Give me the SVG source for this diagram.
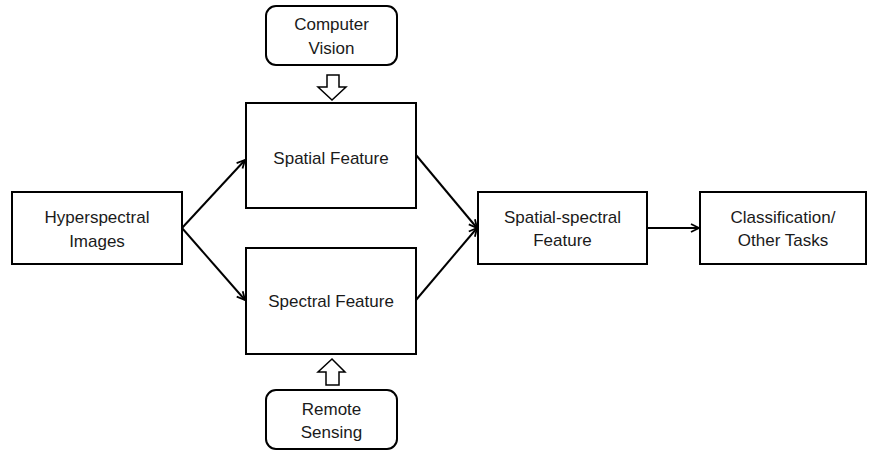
<svg xmlns="http://www.w3.org/2000/svg" width="878" height="450" viewBox="0 0 878 450">
<defs>
<style>
.box{fill:#fff;stroke:#000;stroke-width:2}
.t{font-family:"Liberation Sans",Arial,sans-serif;font-size:17px;fill:#1a1a1a;text-anchor:middle}
.c{fill:none;stroke:#000;stroke-width:2}
.big{fill:#fff;stroke:#000;stroke-width:1.5;stroke-linejoin:miter}
</style>
<marker id="ah" viewBox="0 0 10 10" refX="9" refY="5" markerWidth="10" markerHeight="10" markerUnits="userSpaceOnUse" orient="auto">
<path d="M1,1 L9,5 L1,9" fill="none" stroke="#000" stroke-width="1.8"/>
</marker>
</defs>
<rect width="878" height="450" fill="#fff"/>
<g id="connectors">
<line class="c" x1="182" y1="228" x2="245" y2="160" marker-end="url(#ah)"/>
<line class="c" x1="182" y1="228" x2="245" y2="300" marker-end="url(#ah)"/>
<line class="c" x1="416" y1="155" x2="477" y2="228" marker-end="url(#ah)"/>
<line class="c" x1="416" y1="300" x2="477" y2="228" marker-end="url(#ah)"/>
<line class="c" x1="647" y1="228" x2="699" y2="228" marker-end="url(#ah)"/>
<path class="big" d="M327,75 H339 V87 H346 L332,100 L318,87 H327 Z"/>
<path class="big" d="M326,385 H339 V372 H345 L332,359 L318,372 H326 Z"/>
</g>
<g id="computer-vision">
<rect class="box" x="266" y="6" width="131" height="59" rx="10"/>
<text class="t" x="331.5" y="30">Computer</text>
<text class="t" x="331.5" y="54">Vision</text>
</g>
<g id="spatial-feature">
<rect class="box" x="246" y="103" width="170" height="105"/>
<text class="t" x="331" y="164">Spatial Feature</text>
</g>
<g id="spectral-feature">
<rect class="box" x="246" y="248" width="170" height="106"/>
<text class="t" x="331" y="307">Spectral Feature</text>
</g>
<g id="remote-sensing">
<rect class="box" x="266" y="390" width="131" height="59" rx="10"/>
<text class="t" x="331.5" y="415">Remote</text>
<text class="t" x="331.5" y="438">Sensing</text>
</g>
<g id="hyperspectral-images">
<rect class="box" x="12" y="192" width="170" height="72"/>
<text class="t" x="97" y="223">Hyperspectral</text>
<text class="t" x="97" y="247">Images</text>
</g>
<g id="spatial-spectral-feature">
<rect class="box" x="478" y="192" width="169" height="72"/>
<text class="t" x="562.5" y="223">Spatial-spectral</text>
<text class="t" x="562.5" y="246">Feature</text>
</g>
<g id="classification">
<rect class="box" x="700" y="192" width="166" height="72"/>
<text class="t" x="783" y="223">Classification/</text>
<text class="t" x="783" y="246">Other Tasks</text>
</g>
</svg>
